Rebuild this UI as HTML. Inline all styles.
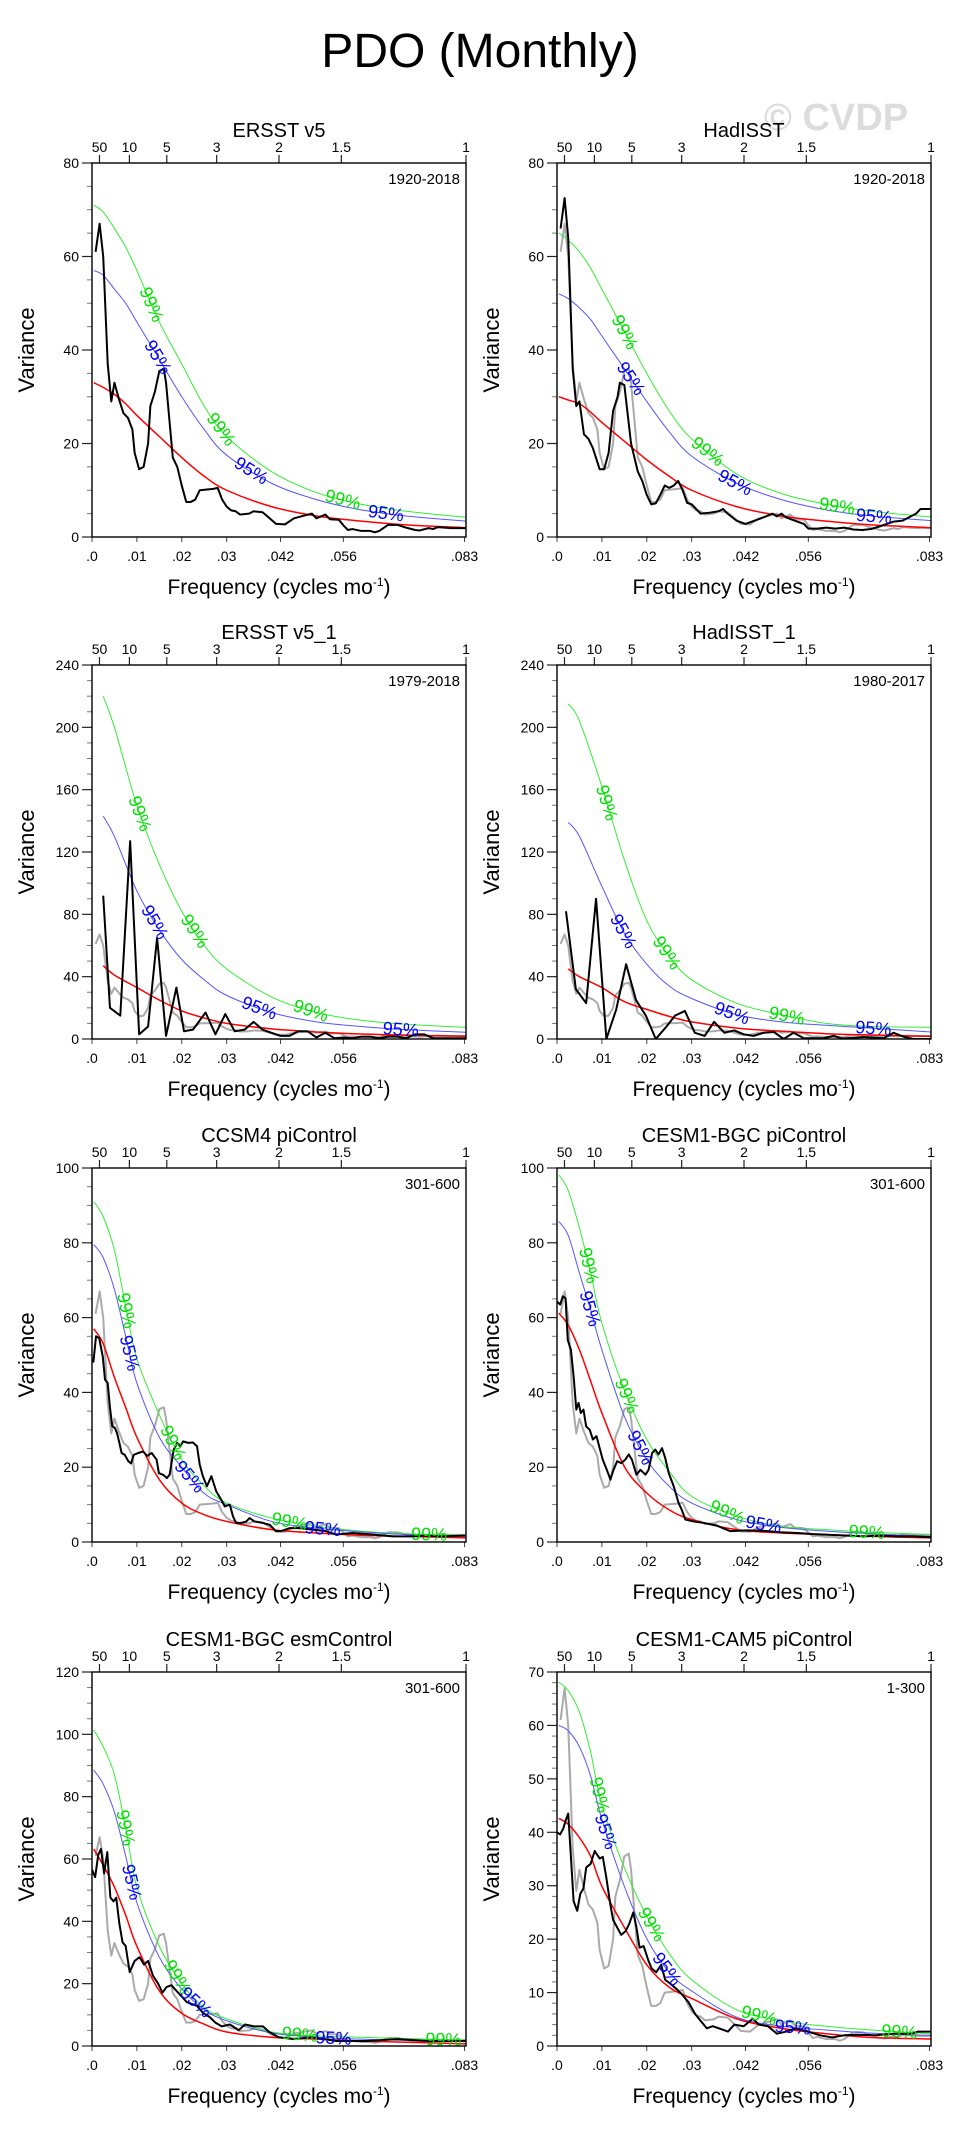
<!DOCTYPE html>
<html><head><meta charset="utf-8"><title>PDO (Monthly)</title>
<style>
html,body{margin:0;padding:0;background:#fff;}
svg{display:block;font-family:"Liberation Sans",Arial,sans-serif;}
</style></head>
<body>
<svg id="fig" width="959" height="2135" viewBox="0 0 959 2135" xmlns="http://www.w3.org/2000/svg">
<rect x="0" y="0" width="959" height="2135" fill="#fff"/>
<text x="480" y="67" font-size="48" text-anchor="middle" fill="#000">PDO (Monthly)</text>
<text x="836" y="130" font-size="38" font-weight="bold" text-anchor="middle" fill="#dcdcdc">© CVDP</text>
<g id="panels"></g>
</svg>
<script>
// ---- common grids ----
const gridA = [0.0004,0.0025,0.005,0.0075,0.01,0.015,0.02,0.025,0.03,0.04,0.05,0.06,0.07,0.0833];
const gridB = [0.0025,0.005,0.01,0.015,0.02,0.025,0.03,0.04,0.05,0.06,0.07,0.0833];
const xTickVals = [0,0.01,0.02,0.03,0.042,0.056,0.083];
const xTickLabels = [".0",".01",".02",".03",".042",".056",".083"];
const periodTicks = [50,10,5,3,2,1.5,1];

// ---- ERSST v5 (also the gray reference) ----
const ersstF = [0.0008,0.0017,0.0025,0.0035,0.0043,0.005,0.006,0.007,0.008,0.009,0.0095,0.0105,0.0115,0.0125,0.013,0.014,0.015,0.016,0.0165,0.018,0.019,0.020,0.021,0.022,0.023,0.024,0.027,0.028,0.029,0.030,0.031,0.032,0.033,0.035,0.036,0.038,0.039,0.041,0.043,0.045,0.047,0.049,0.050,0.052,0.053,0.055,0.056,0.057,0.058,0.060,0.062,0.063,0.064,0.066,0.068,0.070,0.072,0.073,0.075,0.076,0.077,0.080,0.0833];
const ersstV = [61,67,60,37,29,33,29.5,26.5,25.5,23,18,14.5,15,20,28,31,35.5,36,33,17,15,11,7.5,7.5,8,10,10.3,10.5,8,6.5,5.7,5.5,4.8,5,5.5,5.3,4.5,2.8,2.7,4,4.5,5,4,4.8,3.8,3.7,2.5,1.5,1.7,1.3,1.3,1.0,1.3,2.6,2.6,2.0,1.5,1.4,1.9,1.7,2.1,1.9,1.9];
const ersstRed = [33,32,30.5,28.5,26,21.5,17,13,10,6.5,4.5,3.4,2.6,2.0];
const ersst95 = [57,56,53,50,46,38,30,23,17.5,11.5,8,5.8,4.5,3.4];
const ersst99 = [71,69.5,66,62,57,46,37,28,21.5,14,9.5,7,5.5,4.2];

// ---- HadISST ----
const hadF = [0.0008,0.0017,0.0025,0.0035,0.0043,0.005,0.006,0.007,0.008,0.009,0.0095,0.0105,0.0115,0.0125,0.0135,0.014,0.015,0.0165,0.018,0.019,0.020,0.021,0.022,0.023,0.024,0.025,0.026,0.027,0.028,0.029,0.030,0.031,0.032,0.034,0.036,0.037,0.038,0.040,0.042,0.044,0.046,0.048,0.049,0.050,0.051,0.053,0.055,0.056,0.058,0.060,0.062,0.064,0.066,0.068,0.070,0.072,0.075,0.077,0.080,0.081,0.0833];
const hadV = [66,72.5,64,36,28,29,22,21,19,16,14.5,14.5,18,27,30,33,32.5,20,14,12,9,7,7.2,9,11,10.5,11,12,10,7.3,7,6,5,5.2,5.5,6,5,3.5,2.8,3.5,4.2,5,4.4,5,4.2,3.5,2.8,1.8,1.8,2,1.8,2,1.6,1.5,1.7,2.3,3.3,3.5,5,6,6];
const hadRed = [30,29.3,28.5,26.7,24.5,20.5,16.5,13,10,6.5,4.5,3.4,2.6,2.0];
const had95 = [52,51,49,46.5,43,36,29,22.5,17.3,11.5,8,5.8,4.5,3.5];
const had99 = [65,63.5,61,57.5,53,44,35,27,21,13.5,9.3,7,5.5,4.3];

// ---- ERSST v5_1 ----
const ersst1F = [0.0025,0.004,0.0063,0.0085,0.0105,0.0125,0.0145,0.0165,0.0188,0.0205,0.0225,0.0253,0.0275,0.0297,0.0318,0.034,0.036,0.038,0.040,0.042,0.044,0.046,0.048,0.050,0.052,0.054,0.056,0.058,0.060,0.062,0.064,0.066,0.068,0.070,0.072,0.074,0.076,0.0833];
const ersst1V = [92,20,15,127,3,8,65,2,33,5,6,17,3,16,5,6,11,6,4,2,2,5,5,1,4,0.5,1,0.5,1.5,1.5,0.5,1.5,1.5,0.5,3,3,0.5,0.5];
const ersst1Red = [47,41,33,25,18,13.5,10,6.5,4.5,3.2,2.5,1.8];
const ersst1_95 = [143,130,95,70,51,38,28,17,11,8,6,4.3];
const ersst1_99 = [220,200,150,112,82,60,45,27,17,12,9.5,7.5];

// ---- HadISST_1 ----
const had1F = [0.002,0.0042,0.0065,0.0087,0.011,0.0132,0.0154,0.0176,0.0198,0.022,0.0241,0.0263,0.0285,0.0307,0.0329,0.035,0.0373,0.0395,0.0416,0.0438,0.046,0.0483,0.0505,0.0527,0.055,0.0594,0.0616,0.0638,0.0683,0.0728,0.075,0.0772,0.0794,0.0833];
const had1V = [82,32,23,90,0,19,48,25,15,0,7,15,18,4,2,11,4,5.5,3,2,4,4.5,0,4,0.5,0.5,2,0.3,1.3,0.5,4,1.5,0,0];
const had1Red = [45,40,33,24,19,14.5,11,7,5,3.4,2.6,1.7];
const had1_95 = [139,130,98,68,48,34,26,15.6,11,8.8,7,4.5];
const had1_99 = [215,204,162,115,76,53,38,23,15.6,10,8,7.5];

// ---- CCSM4 piControl ----
const ccsmF = [0.0003,0.0009,0.0016,0.0024,0.0029,0.0035,0.004,0.0045,0.0051,0.0056,0.0061,0.0066,0.0073,0.0081,0.0087,0.0093,0.0103,0.0114,0.0123,0.0133,0.0144,0.0149,0.0158,0.0167,0.0173,0.0182,0.0190,0.0197,0.0203,0.0214,0.0225,0.0234,0.024,0.0247,0.0256,0.0266,0.0277,0.0288,0.0296,0.0307,0.0314,0.0321,0.0332,0.0344,0.0351,0.0362,0.038,0.0396,0.041,0.0421,0.044,0.0462,0.0492,0.0521,0.0544,0.058,0.0625,0.067,0.0707,0.0744,0.078,0.0831];
const ccsmV = [48,55,54.5,49.6,43.4,42.5,36,31,30.5,29,26.5,23.8,23.3,21.6,21,23.3,23.8,24.2,23,23.8,22,18.4,18,17.1,18,24.7,26.5,25.6,26.9,26.5,26.6,25.6,20.7,17.6,14.9,17.6,13.5,11.3,9.5,10,6.9,5.1,5.1,5.5,6.4,5.5,5.1,4.6,2.9,2.9,3.7,3.7,3.3,2.9,2.0,2.4,2.0,1.5,1.5,1.7,1.5,1.7];
const ccsmRed = [57,53,44,36,28,16.7,10.4,7.3,5.5,3.3,2.4,1.8,1.5,1.1];
const ccsm95 = [79.5,76,67.5,55,42.5,28,20,13,10,5.5,3.7,2.7,2,1.5];
const ccsm99 = [91,87,78,63,49,34,22,15,10.4,6.4,4.2,2.9,2.2,1.8];

// ---- CESM1-BGC piControl ----
const bgcF = [0,0.0007,0.0013,0.0019,0.0024,0.0031,0.0037,0.0043,0.0048,0.0053,0.0059,0.0065,0.0073,0.0080,0.0088,0.0095,0.0102,0.0111,0.0119,0.0126,0.0134,0.0143,0.0152,0.016,0.0167,0.0177,0.0186,0.0197,0.0204,0.0212,0.0219,0.0226,0.0234,0.0241,0.0249,0.026,0.0271,0.0278,0.0286,0.0304,0.0327,0.0356,0.0386,0.0423,0.046,0.0497,0.0535,0.0572,0.0609,0.0646,0.0683,0.072,0.0757,0.0794,0.0833];
const bgcV = [64.3,63.5,65.7,65.2,54,51.4,44.3,35.4,37.2,34.5,35.4,30.9,30,27.4,28.3,25.1,22,19.3,16.7,19.3,21.6,21.1,22,23.4,22,18,19.3,18,19.3,23.8,24.7,23.4,25.1,22.5,18.4,14.9,10.4,8.6,6,5.5,5.1,4.4,2.9,3.1,3,2.6,2.4,2.1,1.9,1.7,1.5,1.7,1.5,1.5,1.3];
const bgcRed = [61.2,58,51.4,43,34.5,20.2,13.1,8.6,6,3.3,2.4,2,1.5,1.1];
const bgc95 = [85.7,82,71.9,62,51.4,33.6,22,14.9,10.4,6,3.9,2.9,2.2,1.5];
const bgc99 = [98.2,94,84,72,58.5,40.7,27.4,18.9,12.2,6.9,4.2,3.3,2.6,2.0];

// ---- CESM1-BGC esmControl ----
const esmF = [0,0.0007,0.0014,0.002,0.0027,0.0034,0.0041,0.0048,0.0054,0.0061,0.0068,0.0075,0.0084,0.0095,0.0106,0.0116,0.0125,0.0136,0.0147,0.0157,0.0166,0.0177,0.0188,0.02,0.0211,0.0222,0.0234,0.0248,0.0262,0.0275,0.0289,0.0307,0.0327,0.0341,0.0361,0.0381,0.0395,0.0416,0.045,0.049,0.0545,0.0613,0.0681,0.0749,0.0833];
const esmV = [56.6,54.2,61.4,63.2,55.4,62.2,47.6,46.4,47.6,39.2,33.3,32.1,23.7,27.3,28.5,26.1,27.3,22.5,20.1,17.1,18.9,19.5,17.7,15.9,14.1,13.5,12.9,10.5,9.3,7.5,6.3,6.9,5.1,6.9,6.3,6.3,4.5,2.8,2.2,2.8,1.6,1.6,2.2,1.6,1.6];
const esmRed = [63.2,58,51,42,32,17.7,10.5,7,4.5,2.8,2.2,1.6,1.2,0.7];
const esm95 = [88.5,84,75,61,46,28.5,18.3,11.7,8.1,4.2,2.8,2.2,1.8,1.4];
const esm99 = [101.4,96,87,70,51,32,20,12.3,8.7,4.5,3.3,2.8,2.4,1.9];

// ---- CESM1-CAM5 piControl ----
const cam5F = [0,0.0007,0.0014,0.002,0.0025,0.003,0.0037,0.0045,0.0052,0.0059,0.0065,0.0075,0.0084,0.0095,0.0102,0.0109,0.0119,0.0125,0.0134,0.0143,0.0153,0.0161,0.017,0.0177,0.0184,0.0193,0.0204,0.0211,0.0221,0.0232,0.0241,0.0252,0.0266,0.0279,0.0293,0.0307,0.032,0.0334,0.0347,0.0361,0.0381,0.0395,0.0416,0.0436,0.045,0.047,0.049,0.0511,0.0531,0.0559,0.0586,0.0613,0.064,0.0668,0.0708,0.0749,0.079,0.0804,0.0833];
const cam5V = [40,39.6,40.7,42.4,43.5,36.8,27.1,25.3,28.5,29.5,33.4,34.1,36.5,35.1,35.4,32,26.4,23.6,22.2,20.8,21.5,22.9,25,22.2,18.4,18.7,15.9,14.5,13.8,15.2,12.4,11.7,10.7,9.6,8.2,6.1,4.7,3.3,3.7,3.3,2.7,4,3.7,5.1,4,3.7,2.3,2.7,3.3,2.7,2,1.6,2,2.1,2,2.3,2.3,2.7,2.7];
const cam5Red = [42.6,41.5,39,35.5,29.9,22.2,15.2,11,8.9,5.1,3.3,2.3,1.6,1.3];
const cam5_95 = [60,59,56,50.5,42.4,29.9,20.1,13.8,10.3,5.4,3.7,3,2.4,2];
const cam5_99 = [68.1,66.5,62.5,55,45,33.4,24.3,17.3,12.4,6.8,4.7,3.7,3,2.3];

// ---- significance label frequencies ----
const lab99 = [[0.0133,0.0288,0.0559],[0.0151,0.0336,0.0624],[0.0107,0.0229,0.0488],[0.0111,0.0245,0.0512],[0.0077,0.0181,0.044,0.0751],[0.0071,0.0156,0.0379,0.069],[0.0075,0.0191,0.0463,0.0783],[0.0095,0.0211,0.045,0.0763]];
const lab95 = [[0.0147,0.0355,0.0655],[0.0165,0.0397,0.0706],[0.014,0.0373,0.0688],[0.0148,0.039,0.0705],[0.0084,0.0218,0.0514],[0.0074,0.0186,0.046],[0.0089,0.0232,0.0538],[0.0109,0.0245,0.0525]];

const panelTitles = ["ERSST v5","HadISST","ERSST v5_1","HadISST_1","CCSM4 piControl","CESM1-BGC piControl","CESM1-BGC esmControl","CESM1-CAM5 piControl"];
const panelYears = ["1920-2018","1920-2018","1979-2018","1980-2017","301-600","301-600","301-600","1-300"];
const yMax = [80,80,240,240,100,100,120,70];
const yMajor = [20,20,40,40,20,20,20,10];
const yMinor = [5,5,10,10,5,5,5,2];

const panels = [
 {f:ersstF,v:ersstV,g:gridA,red:ersstRed,c95:ersst95,c99:ersst99},
 {f:hadF,v:hadV,g:gridA,red:hadRed,c95:had95,c99:had99},
 {f:ersst1F,v:ersst1V,g:gridB,red:ersst1Red,c95:ersst1_95,c99:ersst1_99},
 {f:had1F,v:had1V,g:gridB,red:had1Red,c95:had1_95,c99:had1_99},
 {f:ccsmF,v:ccsmV,g:gridA,red:ccsmRed,c95:ccsm95,c99:ccsm99},
 {f:bgcF,v:bgcV,g:gridA,red:bgcRed,c95:bgc95,c99:bgc99},
 {f:esmF,v:esmV,g:gridA,red:esmRed,c95:esm95,c99:esm99},
 {f:cam5F,v:cam5V,g:gridA,red:cam5Red,c95:cam5_95,c99:cam5_99}
];

const NS = "http://www.w3.org/2000/svg";
const colX = [92,557], rowY = [163,665,1168,1672], PW = 374, PH = 374, FMAX = 0.08333;
const root = document.getElementById('panels');
function mk(tag, attrs, parent){
  const e = document.createElementNS(NS, tag);
  for (const k in attrs) e.setAttribute(k, attrs[k]);
  parent.appendChild(e);
  return e;
}
function crPath(pts){
  if (pts.length < 2) return "";
  let d = "M" + pts[0][0].toFixed(2) + "," + pts[0][1].toFixed(2);
  for (let i = 0; i < pts.length - 1; i++){
    const p0 = pts[i-1] || pts[i], p1 = pts[i], p2 = pts[i+1], p3 = pts[i+2] || pts[i+1];
    const c1 = [p1[0] + (p2[0]-p0[0])/6, p1[1] + (p2[1]-p0[1])/6];
    const c2 = [p2[0] - (p3[0]-p1[0])/6, p2[1] - (p3[1]-p1[1])/6];
    d += "C" + c1[0].toFixed(2)+","+c1[1].toFixed(2)+" "+c2[0].toFixed(2)+","+c2[1].toFixed(2)+" "+p2[0].toFixed(2)+","+p2[1].toFixed(2);
  }
  return d;
}
function linPath(pts){
  return pts.map((p,i)=>(i?"L":"M")+p[0].toFixed(2)+","+p[1].toFixed(2)).join("");
}
function interp(xs, ys, x){
  if (x <= xs[0]) return ys[0];
  for (let i = 1; i < xs.length; i++){
    if (x <= xs[i]){ const t = (x-xs[i-1])/(xs[i]-xs[i-1]); return ys[i-1] + t*(ys[i]-ys[i-1]); }
  }
  return ys[ys.length-1];
}

panels.forEach((P, idx) => {
  const x0 = colX[idx % 2], y0 = rowY[Math.floor(idx/2)];
  const ymax = yMax[idx];
  const sx = f => x0 + f / FMAX * PW;
  const sy = v => y0 + PH - v / ymax * PH;
  const g = mk('g', {}, root);
  
  

  const t = mk('text', {x: x0 + PW/2, y: y0 - 26, 'font-size': 20, 'text-anchor': 'middle', fill: '#000'}, g);
  
  
  t.textContent = panelTitles[idx];

  const yr = mk('text', {x: x0 + PW - 6, y: y0 + 21, 'font-size': 15, 'text-anchor': 'end', fill: '#000'}, g);
  
  
  yr.textContent = panelYears[idx];

  for (let v = 0; v <= ymax + 1e-9; v += yMinor[idx]){
    const major = Math.abs(v / yMajor[idx] - Math.round(v / yMajor[idx])) < 1e-6;
    const yy = sy(v);
    mk('line', {x1: x0 - (major ? 10 : 5), x2: x0, y1: yy, y2: yy, stroke: major ? '#222' : '#777', 'stroke-width': major ? 1.2 : 1}, g);
    if (major){
      const tl = mk('text', {x: x0 - 13, y: yy + 5, 'font-size': 14, 'text-anchor': 'end', fill: '#000'}, g);
      
      
      tl.textContent = String(v);
    }
  }
  xTickVals.forEach((fv, i) => {
    const xx = sx(fv);
    mk('line', {x1: xx, x2: xx, y1: y0 + PH, y2: y0 + PH + 5, stroke: '#444', 'stroke-width': 1}, g);
    const tl = mk('text', {x: xx, y: y0 + PH + 24, 'font-size': 14, 'text-anchor': 'middle', fill: '#000'}, g);
    
    
    tl.textContent = xTickLabels[i];
  });
  periodTicks.forEach(p => {
    const xx = sx(1 / (12 * p));
    mk('line', {x1: xx, x2: xx, y1: y0, y2: y0 - 8, stroke: '#222', 'stroke-width': 1.2}, g);
    const tl = mk('text', {x: xx, y: y0 - 11, 'font-size': 14, 'text-anchor': 'middle', fill: '#000'}, g);
    
    
    tl.textContent = String(p);
  });
  const yt = mk('text', {x: 0, y: 0, 'font-size': 22, 'text-anchor': 'middle', fill: '#000', transform: 'translate(' + (x0 - 58) + ',' + (y0 + PH/2) + ') rotate(-90)'}, g);
  
  
  yt.textContent = 'Variance';
  const xt = mk('text', {x: x0 + PW/2, y: y0 + PH + 57, 'font-size': 21, 'text-anchor': 'middle', fill: '#000'}, g);
  
  
  xt.innerHTML = 'Frequency (cycles mo<tspan dy="-8" font-size="12">-1</tspan><tspan dy="8">)</tspan>';

  const cid = 'clip' + idx;
  const cp = mk('clipPath', {id: cid}, g);
  mk('rect', {x: x0, y: y0, width: PW, height: PH}, cp);
  const plot = mk('g', {'clip-path': 'url(#' + cid + ')'}, g);

  if (idx !== 0){
    const gp = mk('path', {d: linPath(ersstF.map((f,i)=>[sx(f), sy(ersstV[i])])), fill: 'none', stroke: '#aaaaaa', 'stroke-width': 2, 'stroke-linejoin': 'round'}, plot);
    
    
  }
  const c99 = mk('path', {d: crPath(P.g.map((f,i)=>[sx(f), sy(P.c99[i])])), fill: 'none', stroke: '#33ee33', 'stroke-width': 1}, plot);
  
  
  const c95 = mk('path', {d: crPath(P.g.map((f,i)=>[sx(f), sy(P.c95[i])])), fill: 'none', stroke: '#5555ff', 'stroke-width': 1}, plot);
  
  
  const rd = mk('path', {d: crPath(P.g.map((f,i)=>[sx(f), sy(P.red[i])])), fill: 'none', stroke: '#ff0000', 'stroke-width': 1.5}, plot);
  
  
  const bk = mk('path', {d: linPath(P.f.map((f,i)=>[sx(f), sy(P.v[i])])), fill: 'none', stroke: '#000', 'stroke-width': 2, 'stroke-linejoin': 'round'}, plot);
  
  

  function addLabels(fs, arr, txt, col, name){
    fs.forEach(f => {
      const xa = sx(f - 0.0008), xb = sx(f + 0.0008);
      const ya = sy(interp(P.g, arr, f - 0.0008)), yb = sy(interp(P.g, arr, f + 0.0008));
      const ang = Math.atan2(yb - ya, xb - xa) * 180 / Math.PI;
      const xx = sx(f), yy = sy(interp(P.g, arr, f));
      const lt = mk('text', {x: 0, y: 6, 'font-size': 18, 'text-anchor': 'middle', fill: col, transform: 'translate(' + xx.toFixed(1) + ',' + yy.toFixed(1) + ') rotate(' + ang.toFixed(1) + ')'}, plot);
      
      
      lt.textContent = txt;
    });
  }
  addLabels(lab99[idx], P.c99, '99%', '#00e000', 'label-99-percent');
  addLabels(lab95[idx], P.c95, '95%', '#0000ff', 'label-95-percent');

  const fr = mk('rect', {x: x0, y: y0, width: PW, height: PH, fill: 'none', stroke: '#000', 'stroke-width': 1.4}, g);
  
  
});
</script>
</body></html>
